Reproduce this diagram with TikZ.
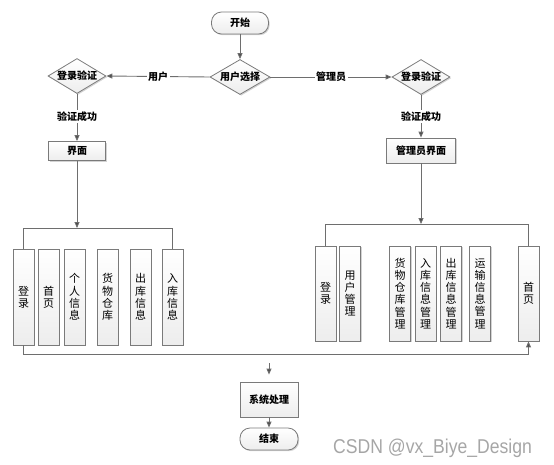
\documentclass[tikz,border=0pt]{standalone}
\usepackage{fontspec}
\newfontfamily\cjk{Noto Sans CJK SC}
\newfontfamily\wmfont{Liberation Sans}
\usetikzlibrary{shapes.geometric,arrows.meta,shadows}
\definecolor{linegray}{HTML}{6E6E6E}
\definecolor{boxgray}{HTML}{7A7A7A}
\definecolor{tipgray}{HTML}{4A4A4A}
\tikzset{
  conn/.style={draw=linegray, line width=0.9pt},
  arr/.style={conn, -{Triangle[length=6pt,width=5pt,fill=tipgray]}},
  boxbase/.style={draw=boxgray, line width=0.8pt, top color=white, bottom color=gray!14,
    drop shadow={shadow xshift=1.2pt, shadow yshift=-1.2pt, opacity=0.35}},
  lbl/.style={font=\cjk\bfseries\fontsize{10}{12}\selectfont},
  term/.style={boxbase, lbl, rectangle, rounded corners=10pt, minimum width=57pt, minimum height=22pt, inner sep=0pt},
  proc/.style={boxbase, lbl, rectangle, minimum width=57pt, minimum height=19pt, inner sep=0pt},
  dec/.style={boxbase, lbl, diamond, aspect=1.7, inner sep=0pt, minimum width=60pt, minimum height=35pt},
  vbox/.style={boxbase, rectangle, minimum width=21pt, minimum height=96pt, inner sep=0pt, align=center,
    font=\cjk\fontsize{11}{12.2}\selectfont},
  elbl/.style={lbl, fill=white, inner sep=1.5pt}
}
\begin{document}
\begin{tikzpicture}[x=1pt,y=-1pt]
\useasboundingbox (0,0) rectangle (554,464);

% main flow nodes
\node[term] (start) at (240,23) {开始};
\node[dec] (choose) at (240,77) {用户选择};
\node[dec, minimum width=58pt] (loginL) at (77,76) {登录验证};
\node[dec, minimum width=58pt] (loginR) at (421,77) {登录验证};
\node[proc] (ifaceL) at (77,151) {界面};
\node[proc, minimum width=69pt, minimum height=25pt] (ifaceR) at (421,150.5) {管理员界面};
\node[proc, minimum width=58pt, minimum height=35pt] (sys) at (269,399.5) {系统处理};
\node[term, minimum width=58pt] (finish) at (269,439) {结束};

% left vertical boxes
\node[vbox] (L1) at (23.5,297) {登\\录};
\node[vbox] (L2) at (48.5,297) {首\\页};
\node[vbox] (L3) at (74.5,297) {个\\人\\信\\息};
\node[vbox] (L4) at (107.5,297) {货\\物\\仓\\库};
\node[vbox] (L5) at (140.5,297) {出\\库\\信\\息};
\node[vbox] (L6) at (172.5,297) {入\\库\\信\\息};

% right vertical boxes
\node[vbox, minimum height=95pt] (R1) at (325.5,293.5) {登\\录};
\node[vbox, minimum height=95pt] (R2) at (350,293.5) {用\\户\\管\\理};
\node[vbox, minimum height=95pt] (R3) at (400,293.5) {货\\物\\仓\\库\\管\\理};
\node[vbox, minimum height=95pt] (R4) at (425.5,293.5) {入\\库\\信\\息\\管\\理};
\node[vbox, minimum height=95pt] (R5) at (451,293.5) {出\\库\\信\\息\\管\\理};
\node[vbox, minimum height=95pt] (R6) at (480,293.5) {运\\输\\信\\息\\管\\理};
\node[vbox, minimum height=95pt] (R7) at (528.5,293.5) {首\\页};

% helper coordinates
\coordinate (busL) at (0,228);
\coordinate (busR) at (0,224);
\coordinate (busB) at (0,354);
\coordinate (sysin) at (269,363);

% connectors
\draw[arr] (start) -- (choose);
\draw[arr] (choose.west) -- node[elbl] {用户} (loginL.east);
\draw[arr] (choose.east) -- node[elbl] {管理员} (loginR.west);
\draw[arr] (loginL.south) -- node[elbl, pos=0.48] {验证成功} (ifaceL.north);
\draw[arr] (loginR.south) -- node[elbl, pos=0.5] {验证成功} (ifaceR.north);
\draw[arr] (ifaceL.south) -- (ifaceL.south |- busL);
\draw[arr] (ifaceR.south) -- (ifaceR.south |- busR);
\draw[conn] (L1.north) -- (L1.north |- busL) -- (L6.north |- busL) -- (L6.north);
\draw[conn] (R1.north) -- (R1.north |- busR) -- (R7.north |- busR) -- (R7.north);
\draw[arr] (L1.south) -- (L1.south |- busB) -- (R7.south |- busB) -- (R7.south);
\draw[arr, shorten >=7pt] (sysin) -- (sys.north);
\draw[arr] (sys.south) -- (finish.north);

% watermark
\node[text=gray!70, font=\wmfont\fontsize{20}{22}\selectfont, xscale=0.88, anchor=base west, inner sep=0pt] (wm) at (333,453) {CSDN @vx\_Biye\_Design};
\end{tikzpicture}
\end{document}
